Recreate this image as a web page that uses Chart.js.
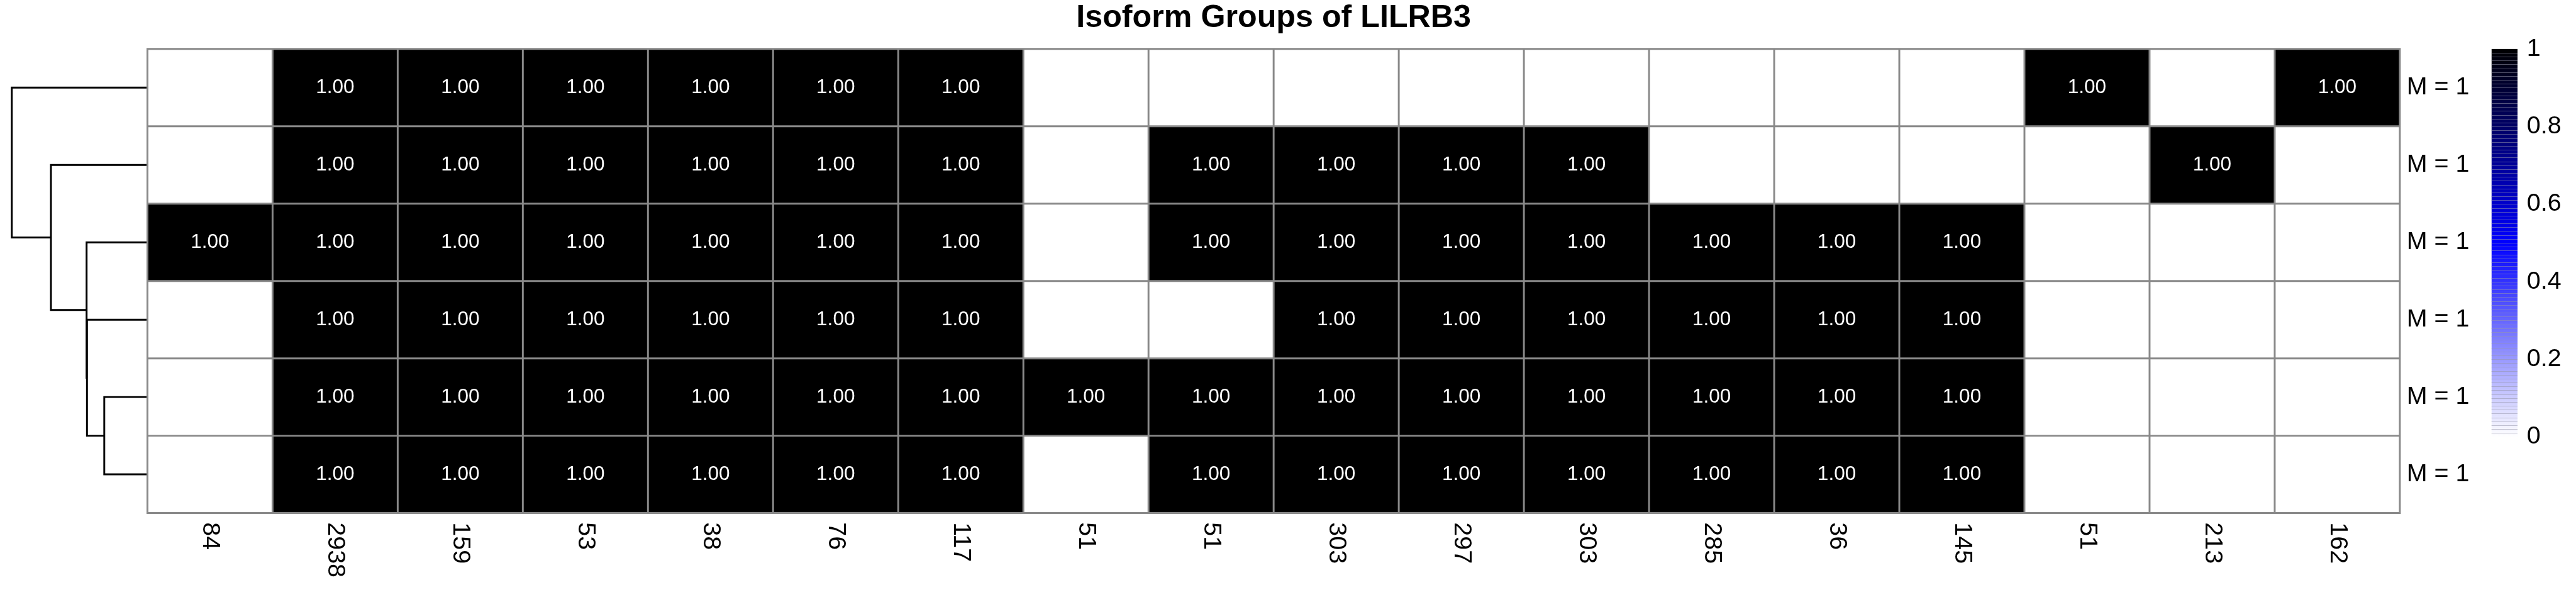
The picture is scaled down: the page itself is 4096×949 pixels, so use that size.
<!DOCTYPE html>
<html>
<head>
<meta charset="utf-8">
<script src="https://cdn.jsdelivr.net/npm/chart.js@4/dist/chart.umd.min.js"></script>
<style>
  html, body { margin: 0; padding: 0; background: #fff; }
  #wrap { position: relative; width: 4096px; height: 949px; overflow: hidden; }
  canvas { position: absolute; top: 0; }
</style>
</head>
<body>
<div id="wrap">
  <canvas id="dendro" width="240" height="949" style="left:0"></canvas>
  <canvas id="heat" width="4096" height="949" style="left:0"></canvas>
  <canvas id="scale" width="156" height="949" style="left:3940px"></canvas>
</div>
<script>
/* pheatmap-style isoform group matrix: row dendrogram, black cells, white->blue->black key */
const FONT = "'Liberation Sans', Arial, Helvetica, sans-serif";
const S = 0.985;
const GRID = '#898989';

const colLabels = ['84', '2938', '159', '53', '38', '76', '117', '51', '51', '303', '297', '303', '285', '36', '145', '51', '213', '162'];
const rowLabels = ['M = 1', 'M = 1', 'M = 1', 'M = 1', 'M = 1', 'M = 1'];

// 1 = isoform in group, null = absent (left blank)
const _ = null;
const group1 = [_, 1, 1, 1, 1, 1, 1, _, _, _, _, _, _, _, _, 1, _, 1];
const group2 = [_, 1, 1, 1, 1, 1, 1, _, 1, 1, 1, 1, _, _, _, _, 1, _];
const group3 = [1, 1, 1, 1, 1, 1, 1, _, 1, 1, 1, 1, 1, 1, 1, _, _, _];
const group4 = [_, 1, 1, 1, 1, 1, 1, _, _, 1, 1, 1, 1, 1, 1, _, _, _];
const group5 = [_, 1, 1, 1, 1, 1, 1, 1, 1, 1, 1, 1, 1, 1, 1, _, _, _];
const group6 = [_, 1, 1, 1, 1, 1, 1, _, 1, 1, 1, 1, 1, 1, 1, _, _, _];
const groups = [group1, group2, group3, group4, group5, group6];

// row clustering, hclust style: negative = leaf row, positive = earlier merge
const mergeA = [-5, -4, -3, -2, -1];
const mergeB = [-6, 1, 2, 3, 4];
const mergeHeight = [0.315, 0.443, 0.446, 0.710, 1.0];

const legendTicks = [0, 0.2, 0.4, 0.6, 0.8, 1];
const legendSteps = 100;

// heatmap box on the page
const HM_L = 238 * S, HM_R = 3874 * S, HM_T = 79 * S, HM_B = 828 * S;

function ramp(v) {
  if (v <= 0.5) {
    const c = Math.round(255 * (1 - v / 0.5));
    return 'rgb(' + c + ',' + c + ',255)';
  }
  return 'rgb(0,0,' + Math.round(255 * (1 - (v - 0.5) / 0.5)) + ')';
}

const heatDecor = {
  id: 'heatDecor',
  afterDatasetsDraw(chart) {
    const { ctx, chartArea: a } = chart;
    const x = chart.scales.x, y = chart.scales.y;
    ctx.save();
    // grid
    ctx.strokeStyle = GRID;
    ctx.lineWidth = 3 * S;
    ctx.lineCap = 'square';
    ctx.beginPath();
    for (let c = 0; c <= colLabels.length; c++) {
      const px = x.getPixelForValue(c - 0.5);
      ctx.moveTo(px, a.top); ctx.lineTo(px, a.bottom);
    }
    for (let r = 0; r <= groups.length; r++) {
      const py = y.getPixelForValue(r);
      ctx.moveTo(a.left, py); ctx.lineTo(a.right, py);
    }
    ctx.stroke();
    // numbers
    ctx.fillStyle = '#ffffff';
    ctx.font = (32 * S) + 'px ' + FONT;
    ctx.textAlign = 'center';
    ctx.textBaseline = 'middle';
    groups.forEach((g, r) => g.forEach((v, c) => {
      if (v == null) return;
      ctx.fillText(v.toFixed(2), x.getPixelForValue(c), y.getPixelForValue(r + 0.5));
    }));
    // column labels, reading downward
    ctx.fillStyle = '#000000';
    ctx.font = (40 * S) + 'px ' + FONT;
    ctx.textAlign = 'left';
    colLabels.forEach((lab, c) => {
      ctx.save();
      ctx.translate(x.getPixelForValue(c), a.bottom + 15 * S);
      ctx.rotate(Math.PI / 2);
      ctx.fillText(lab, 0, 0);
      ctx.restore();
    });
    ctx.restore();
  }
};

new Chart(document.getElementById('heat'), {
  type: 'bar',
  data: {
    labels: colLabels,
    datasets: groups.map((g, r) => ({
      data: g.map(v => (v == null ? null : [r, r + 1])),
      backgroundColor: g.map(v => ramp(v == null ? 0 : v)),
      borderWidth: 0,
      barPercentage: 1,
      categoryPercentage: 1,
      grouped: false
    }))
  },
  options: {
    responsive: false, animation: false, devicePixelRatio: 1,
    layout: { padding: { left: HM_L, top: 0, right: 0, bottom: 949 - HM_B } },
    plugins: {
      legend: { display: false },
      tooltip: { enabled: false },
      title: {
        display: true, fullSize: false,
        text: 'Isoform Groups of LILRB3',
        color: '#000000',
        font: { family: FONT, size: 51 * S, weight: 'bold', lineHeight: 1 },
        padding: { top: 4.4, bottom: HM_T - 4.4 - 51 * S }
      }
    },
    scales: {
      x: { display: false },
      y: { display: false, min: 0, max: 6, reverse: true },
      rows: {
        type: 'category', labels: rowLabels, position: 'right', offset: true,
        grid: { display: false, drawTicks: false },
        border: { display: false },
        ticks: { padding: 11 * S, autoSkip: false, color: '#000000', font: { family: FONT, size: 40 * S } },
        afterFit: s => { s.width = 4096 - HM_R; }
      }
    }
  },
  plugins: [heatDecor]
});

// dendrogram polylines from the merge table
function dendroSegments() {
  const nodes = [];
  const at = k => (k < 0 ? { y: -k - 1, h: 0 } : nodes[k - 1]);
  return mergeA.map((ka, i) => {
    const p = at(ka), q = at(mergeB[i]), h = mergeHeight[i];
    nodes.push({ y: (p.y + q.y) / 2, h });
    return [{ x: p.h, y: p.y }, { x: h, y: p.y }, { x: h, y: q.y }, { x: q.h, y: q.y }];
  });
}

new Chart(document.getElementById('dendro'), {
  type: 'scatter',
  data: {
    datasets: dendroSegments().map(pts => ({
      data: pts, showLine: true, borderColor: '#000000', borderWidth: 3 * S,
      pointRadius: 0, tension: 0, fill: false, clip: false
    }))
  },
  options: {
    responsive: false, animation: false, devicePixelRatio: 1,
    layout: { padding: { left: 19 * S, right: 240 - 237 * S, top: HM_T, bottom: 949 - HM_B } },
    plugins: { legend: { display: false }, tooltip: { enabled: false } },
    scales: {
      x: { display: false, min: 0, max: 1, reverse: true },
      y: { display: false, min: -0.5, max: 5.5, reverse: true }
    }
  }
});

// thin seams between the key's colour steps, as in the R legend
const keySeams = {
  id: 'keySeams',
  afterDatasetsDraw(chart) {
    const { ctx } = chart;
    const bar = chart.getDatasetMeta(0).data[0];
    if (!bar) return;
    const y = chart.scales.y;
    const half = bar.width / 2;
    ctx.save();
    ctx.strokeStyle = 'rgba(150,150,170,0.55)';
    ctx.lineWidth = 1;
    ctx.beginPath();
    for (let i = 1; i < legendSteps; i++) {
      const py = Math.round(y.getPixelForValue(i / legendSteps)) + 0.5;
      ctx.moveTo(bar.x - half, py); ctx.lineTo(bar.x + half, py);
    }
    ctx.stroke();
    ctx.restore();
  }
};

// colour key
new Chart(document.getElementById('scale'), {
  type: 'bar',
  data: {
    labels: [''],
    datasets: [{
      data: [[0, 1]],
      borderWidth: 0, barPercentage: 1, categoryPercentage: 1,
      backgroundColor: c => {
        const a = c.chart.chartArea;
        if (!a) return '#000';
        const g = c.chart.ctx.createLinearGradient(0, a.bottom, 0, a.top);
        g.addColorStop(0, ramp(0));
        g.addColorStop(0.5, ramp(0.5));
        g.addColorStop(1, ramp(1));
        return g;
      }
    }]
  },
  options: {
    responsive: false, animation: false, devicePixelRatio: 1,
    layout: { padding: { left: 4022 * S - 3940, right: 0, top: 79 * S, bottom: 949 - 705 * S } },
    plugins: { legend: { display: false }, tooltip: { enabled: false } },
    scales: {
      x: { display: false },
      y: {
        min: 0, max: 1, position: 'right',
        grid: { display: false, drawTicks: false },
        border: { display: false },
        afterBuildTicks: s => { s.ticks = legendTicks.map(v => ({ value: v })); },
        ticks: { padding: 15 * S, color: '#000000', font: { family: FONT, size: 40 * S }, callback: v => String(v) },
        afterFit: s => { s.width = 156 - (4064 * S - 3940); }
      }
    }
  },
  plugins: [keySeams]
});
</script>
</body>
</html>
